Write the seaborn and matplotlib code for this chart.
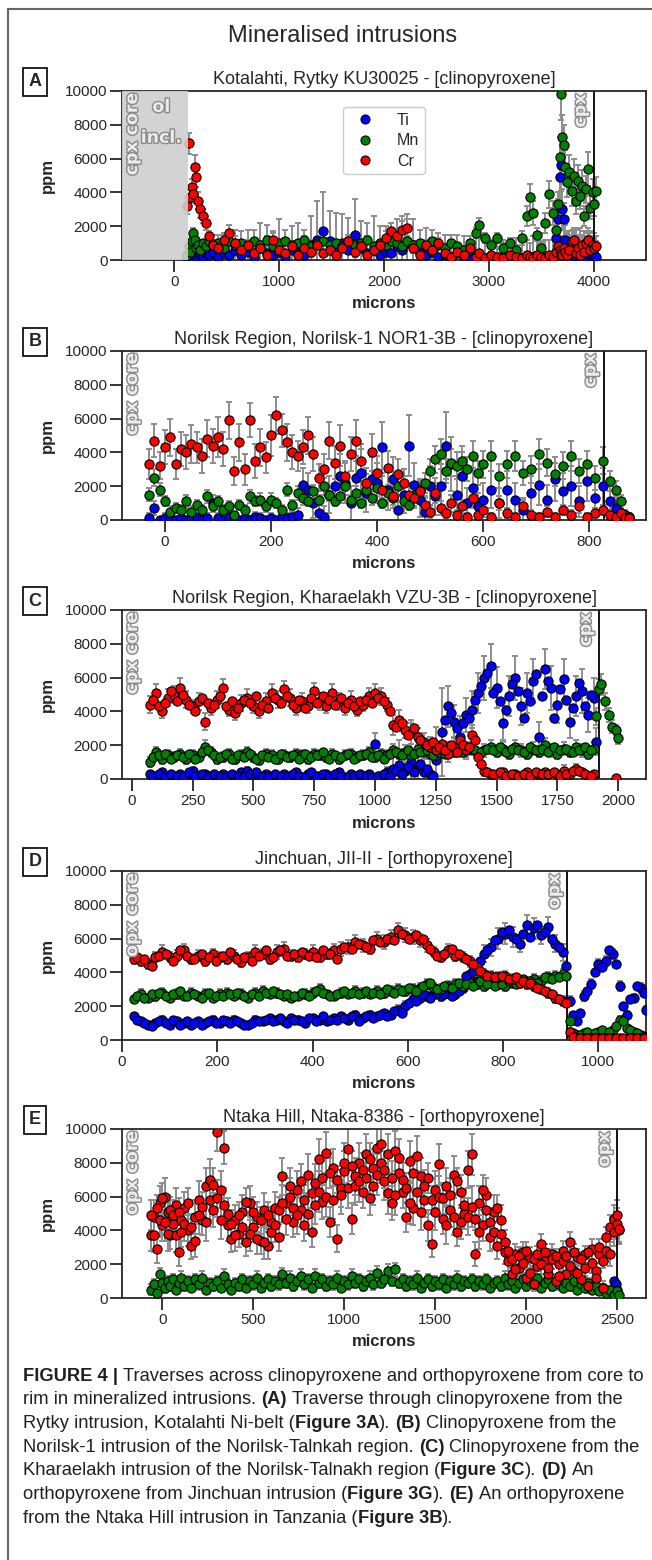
import matplotlib
matplotlib.use("Agg")
import matplotlib.pyplot as plt
import matplotlib.patheffects as pe
from matplotlib.lines import Line2D
from matplotlib.patches import Rectangle
import seaborn as sns

nan = float("nan")

# ---------------- data (ppm vs microns) ----------------
# A - Kotalahti, Rytky KU30025
a_x = [120, 135, 150, 165, 180, 195, 210, 225, 245, 270,
       300, 330, 370, 420, 470, 520, 580, 640, 700, 760,
       820, 880, 940, 1000, 1060, 1120, 1180, 1240, 1300, 1360,
       1420, 1480, 1540, 1600, 1660, 1720, 1780, 1840, 1900, 1960,
       2020, 2070, 2120, 2170, 2220, 2280, 2340, 2400, 2460, 2520,
       2580, 2640, 2700, 2760, 2820, 2880, 2910, 2960, 3020, 3080,
       3140, 3200, 3260, 3320, 3360, 3390, 3420, 3460, 3500, 3540,
       3570, 3610, 3640, 3665, 3680, 3690, 3700, 3715, 3730, 3750,
       3770, 3790, 3810, 3830, 3850, 3870, 3890, 3910, 3930, 3950,
       3970, 3990, 4005, 4020]
a_ti = [200, 400, 300, 200, 500, 300, 200, 400, 300, 200,
        400, 300, 500, 200, 400, 300, 600, 300, 500, 200,
        700, 400, 300, 500, 200, 600, 400, 300, 900, 1200,
        1700, 1100, 800, 1000, 600, 1500, 700, 400, 600, 300,
        500, 400, 800, 600, 1000, 900, 400, 300, 500, 200,
        300, 200, 400, 200, 100, 300, 200, 100, 200, 100,
        200, 100, 200, 100, 200, 100, 200, 100, 200, 100,
        200, 300, 1300, 2400, 4900, 5600, 3000, 2400, 1200, 600,
        400, 300, 500, 200, 300, 400, 200, 300, 200, 400,
        300, 200, 300, 200]
a_mn = [300, 800, 500, 1100, 1600, 1200, 700, 900, 600, 1000,
        800, 1100, 900, 1000, 700, 1100, 900, 1000, 800, 1100,
        900, 1200, 800, 1000, 1100, 900, 1000, 1200, 800, 1000,
        1100, 900, 1000, 800, 1100, 900, 1000, 1200, 800, 1000,
        900, 1100, 1000, 800, 1100, 900, 1000, 800, 1100, 900,
        700, 1000, 800, 600, 1000, 1600, 2100, 1300, 900, 1300,
        700, 1000, 600, 1300, 2600, 3700, 2800, 1500, 700, 2200,
        3900, 2800, 1800, 3300, 6100, 9800, 7300, 6800, 5500, 4600,
        5200, 4100, 5000, 3500, 4700, 3800, 4400, 2600, 4200, 5400,
        3100, 4000, 3300, 4100]
a_cr = [3200, 6900, 3700, 4300, 3900, 5500, 4900, 3500, 3000, 2600,
        2200, 1400, 900, 700, 1200, 1600, 1000, 600, 900, 400,
        700, 300, 1200, 600, 400, 800, 300, 700, 500, 900,
        400, 600, 300, 700, 1100, 500, 800, 300, 600, 900,
        1300, 1700, 1400, 1800, 1900, 700, 300, 900, 600, 1000,
        400, 200, 500, 300, 700, 200, 400, 100, 300, 200,
        100, 300, 200, 100, 300, 200, 100, 300, 200, 100,
        300, 200, 500, 800, 600, 400, 300, 700, 500, 300,
        600, 1100, 1200, 400, 700, 300, 900, 500, 1000, 1200,
        600, 900, 700, 800]
a_ti_err = [200, 300, 200, 200, 300, 200, 200, 300, 200, 200,
            600, 800, 1000, 1300, 1100, 1500, 1200, 1400, 1300, 1600,
            1500, 1700, 1400, 1900, 1600, 1400, 1800, 1500, 1700, 2300,
            2300, 1800, 2000, 1700, 1900, 2100, 1600, 1800, 2000, 1700,
            1500, 1800, 1600, 2000, 1700, 1500, 1400, 1600, 1300, 1400,
            1200, 1300, 1100, 1200, 1300, 1000, 1100, 1200, 1000, 900,
            1000, 900, 1100, 1200, 1000, 900, 1200, 1000, 900, 1100,
            1000, 900, 1100, 1200, 1300, 1500, 1200, 1000, 900, 1000,
            1300, 1500, 1400, 1600, 1200, 1500, 1300, 1400, 1200, 1500,
            1400, 1200, 1300, 1200]
a_mn_err = [200, 200, 200, 300, 300, 200, 200, 200, 200, 200,
            200, 200, 200, 200, 200, 200, 200, 200, 200, 200,
            200, 200, 200, 200, 200, 200, 200, 200, 200, 200,
            200, 200, 200, 200, 200, 200, 200, 200, 200, 200,
            200, 200, 200, 200, 200, 200, 200, 200, 200, 200,
            200, 200, 200, 200, 200, 300, 400, 300, 200, 300,
            300, 300, 300, 400, 600, 800, 700, 400, 300, 600,
            800, 700, 600, 700, 1200, 1500, 1300, 1200, 1000, 900,
            1000, 900, 1000, 800, 900, 800, 900, 600, 800, 1000,
            700, 800, 700, 800]
a_cr_err = [500, 600, 500, 500, 500, 700, 600, 500, 500, 400,
            400, 300, 300, 300, 400, 500, 400, 300, 300, 300,
            300, 200, 400, 300, 200, 300, 200, 300, 300, 300,
            200, 300, 200, 300, 400, 300, 300, 200, 300, 300,
            400, 500, 400, 500, 500, 300, 200, 300, 300, 300,
            200, 200, 300, 200, 300, 200, 200, 100, 200, 200,
            100, 200, 200, 100, 200, 200, 100, 200, 200, 100,
            200, 200, 300, 300, 300, 200, 200, 300, 300, 200,
            300, 400, 400, 300, 300, 200, 300, 300, 400, 400,
            300, 300, 300, 300]

# B - Norilsk-1 NOR1-3B
b_x = [-30, -20, -10, 0, 10, 20, 30, 40, 50, 60,
       70, 80, 90, 100, 110, 120, 130, 140, 150, 160,
       170, 180, 190, 200, 210, 220, 230, 240, 250, 260,
       270, 280, 290, 300, 310, 320, 330, 340, 350, 360,
       370, 380, 390, 400, 410, 420, 430, 440, 450, 460,
       470, 480, 490, 500, 510, 520, 530, 540, 550, 560,
       570, 580, 590, 600, 615, 630, 645, 660, 675, 690,
       705, 720, 735, 750, 765, 780, 795, 810, 825, 840,
       850, 860, 868, 875]
b_ti = [100, 700, 0, 100, 200, 0, 100, 0, 200, 100,
        0, 100, 1000, 100, 0, 200, 100, 0, 100, 0,
        200, 100, 0, 100, 0, 200, 100, 200, 300, 2100,
        1800, 1000, 400, 200, 1500, 2000, 2600, 2200, 1000, 2500,
        2800, 1600, 2400, 2200, 4300, 1800, 2400, 600, 1500, 4400,
        2100, 1200, 500, 2000, 1400, 2000, 4400, 3300, 1500, 2600,
        1000, 1900, 800, 1200, 1800, 1000, 1800, 1200, 600, 1600,
        2100, 1200, 2400, 1700, 2000, 1100, 2300, 1300, 2000, 1100,
        700, 400, 300, 200]
b_mn = [1500, 2500, 1800, 1100, 500, 700, 600, 1100, 500, 900,
        600, 1400, 800, 1100, 600, 800, 300, 900, 600, 1400,
        1100, 1200, 800, 1200, 1000, 600, 1800, 900, 1600, 1300,
        1100, 1700, 1200, 2000, 1500, 1100, 1400, 2000, 1200, 1600,
        1000, 1800, 1300, 1900, 1000, 1600, 1300, 2000, 1100, 900,
        1500, 1800, 2200, 2900, 3600, 3900, 2900, 3400, 3200, 3500,
        3000, 3800, 2800, 3300, 3800, 2600, 3300, 3800, 2800, 3000,
        3900, 3400, 2700, 3200, 3800, 2900, 3300, 2500, 3500, 2300,
        1800, 1100, 300, 200]
b_cr = [3300, 4700, 3200, 4300, 4900, 3300, 4200, 4000, 4500, 4300,
        3800, 4800, 4400, 4900, 4200, 5900, 2900, 4600, 3000, 5900,
        3500, 4300, 3700, 5000, 6200, 5300, 4600, 4000, 3800, 4300,
        5000, 3900, 2500, 3000, 4700, 3400, 4400, 2600, 3900, 4700,
        3500, 2200, 4000, 2800, 1800, 3100, 1400, 2700, 2200, 1500,
        1300, 1700, 900, 500, 1600, 700, 400, 1000, 300, 800,
        200, 1300, 300, 600, 200, 1000, 400, 200, 800, 300,
        200, 500, 200, 600, 300, 800, 200, 400, 600, 300,
        200, 400, 100, 100]
b_ti_err = [300, 400, 200, 300, 300, 200, 300, 200, 300, 300,
            200, 300, 500, 300, 200, 300, 300, 200, 300, 200,
            300, 300, 200, 300, 200, 300, 300, 300, 400, 1000,
            1000, 900, 700, 600, 1100, 1200, 1300, 1200, 1000, 1300,
            1400, 1100, 1300, 1200, 1500, 1200, 1300, 900, 1100, 1800,
            1300, 1000, 800, 1200, 1100, 1300, 2000, 1600, 1100, 1400,
            900, 1200, 800, 1000, 1100, 900, 1100, 1000, 700, 1000,
            1200, 900, 1300, 1100, 1200, 900, 1200, 1000, 1100, 900,
            700, 500, 300, 200]
b_mn_err = [400, 500, 400, 300, 300, 300, 300, 400, 300, 300,
            300, 400, 300, 300, 300, 300, 200, 300, 300, 400,
            300, 400, 300, 400, 300, 300, 400, 300, 400, 400,
            300, 400, 300, 500, 400, 300, 400, 500, 300, 400,
            300, 400, 400, 500, 300, 400, 400, 500, 300, 300,
            400, 500, 600, 700, 800, 900, 700, 800, 800, 900,
            700, 900, 700, 800, 900, 700, 800, 900, 700, 800,
            900, 800, 700, 800, 900, 700, 800, 700, 800, 600,
            500, 400, 200, 200]
b_cr_err = [900, 1000, 800, 1000, 1100, 900, 1000, 1000, 1100, 900,
            1000, 1100, 1000, 1200, 1000, 1100, 800, 1100, 900, 1000,
            1000, 1100, 900, 1200, 1100, 1000, 1100, 1000, 900, 1000,
            1100, 1000, 800, 900, 1100, 1000, 1200, 900, 1000, 1200,
            1000, 900, 1100, 1000, 800, 1000, 700, 900, 800, 700,
            600, 700, 500, 400, 600, 400, 300, 500, 300, 400,
            200, 500, 300, 400, 200, 400, 300, 200, 400, 300,
            200, 300, 200, 300, 300, 400, 200, 300, 300, 300,
            200, 300, 100, 100]

# C - Kharaelakh VZU-3B
c_x = [75, 100, 125, 150, 175, 200, 225, 250, 275, 300,
       325, 350, 375, 400, 425, 450, 475, 500, 525, 550,
       575, 600, 625, 650, 675, 700, 725, 750, 775, 800,
       825, 850, 875, 900, 925, 950, 975, 1000, 1025, 1050,
       1075, 1100, 1125, 1150, 1175, 1200, 1225, 1250, 1275, 1300,
       1325, 1350, 1375, 1400, 1425, 1450, 1475, 1500, 1525, 1550,
       1575, 1600, 1625, 1650, 1675, 1700, 1725, 1750, 1775, 1800,
       1825, 1850, 1875, 1900, 1910, 1920, 1930, 1945, 1960, 1975,
       1990, 2000]
c_ti = [300, 100, 400, 200, 100, 300, 200, 500, 100, 300,
        200, 100, 300, 200, 100, 400, 500, 200, 100, 300,
        200, 100, 300, 200, 400, 100, 300, 200, 100, 300,
        200, 400, 100, 300, 200, 100, 300, 2100, 200, 400,
        600, 800, 500, 1000, 700, 400, 300, 1100, 2800, 4300,
        3400, 2500, 3800, 4100, 5100, 6000, 6700, 5400, 3300, 4900,
        6000, 4300, 5100, 5800, 2500, 6500, 5400, 4400, 5900, 3400,
        4900, 5200, 3800, 4800, 2200, nan, nan, nan, nan, nan,
        nan, nan]
c_mn = [1000, 1600, 1200, 1400, 1300, 1500, 1200, 1400, 1300, 1900,
        1600, 1200, 1300, 1500, 1200, 1400, 1600, 1300, 1100, 1500,
        1400, 1200, 1400, 1300, 1500, 1400, 1200, 1500, 1400, 1300,
        1500, 1200, 1400, 1500, 1300, 1400, 1600, 1300, 1500, 1400,
        1700, 1500, 1600, 1400, 1800, 1600, 1500, 1400, 1700, 1800,
        1600, 1900, 1700, 1800, 1500, 1700, 1900, 1600, 1800, 1500,
        1900, 1700, 1500, 1800, 1600, 2000, 1700, 1500, 1800, 1600,
        1900, 1700, 1500, 1800, 3700, 5300, 5600, 4600, 3800, 3100,
        2900, 2400]
c_cr = [4400, 5100, 4000, 4800, 5000, 5400, 4700, 4300, 4600, 3400,
        4200, 4700, 5400, 4100, 3900, 4500, 4800, 4300, 4000, 4600,
        5100, 4700, 5300, 4800, 4200, 4600, 4300, 5200, 4600, 4300,
        5100, 4600, 4200, 4700, 4100, 4400, 4900, 5100, 4900, 4400,
        3200, 3500, 2900, 2700, 2500, 2200, 1900, 1700, 2100, 1500,
        1900, 2300, 1700, 2600, 1300, 500, 300, 200, 400, 200,
        300, 100, 400, 200, 300, 400, 200, 300, 500, 300,
        600, 400, 200, 300, nan, nan, nan, nan, nan, nan,
        50, nan]
c_ti_err = [200, 100, 200, 100, 100, 200, 100, 200, 100, 200,
            100, 100, 200, 100, 100, 200, 200, 100, 100, 200,
            100, 100, 200, 100, 200, 100, 200, 100, 100, 200,
            100, 200, 100, 200, 100, 100, 200, 600, 200, 300,
            1000, 1500, 1200, 2500, 2000, 1500, 1200, 2000, 2600, 1200,
            1000, 1200, 1000, 1100, 1200, 1300, 1300, 1200, 1000, 1200,
            1300, 1100, 1200, 1300, 900, 1200, 1300, 1100, 1200, 1000,
            1200, 1300, 1000, 1200, 800, nan, nan, nan, nan, nan,
            nan, nan]
c_mn_err = [300, 300, 300, 300, 300, 300, 300, 300, 300, 400,
            300, 300, 300, 300, 300, 300, 300, 300, 300, 300,
            300, 300, 300, 300, 300, 300, 300, 300, 300, 300,
            300, 300, 300, 300, 300, 300, 300, 300, 300, 300,
            400, 300, 400, 300, 400, 400, 300, 400, 400, 400,
            300, 400, 400, 400, 300, 400, 400, 300, 400, 300,
            400, 400, 300, 400, 300, 400, 400, 300, 400, 300,
            400, 400, 300, 400, 500, 600, 600, 500, 400, 400,
            300, 300]
c_cr_err = [500, 500, 400, 500, 500, 600, 500, 400, 500, 500,
            400, 500, 500, 400, 400, 500, 500, 400, 400, 500,
            500, 500, 500, 500, 400, 500, 400, 500, 500, 400,
            500, 500, 400, 500, 400, 400, 500, 500, 500, 400,
            600, 600, 500, 600, 500, 500, 600, 500, 600, 500,
            600, 700, 500, 600, 500, 300, 200, 200, 200, 200,
            200, 200, 200, 200, 200, 200, 200, 200, 300, 200,
            300, 200, 200, 200, nan, nan, nan, nan, nan, nan,
            100, nan]
# C - spots between the ones above
c_x2 = [87, 112, 137, 162, 187, 212, 237, 262, 287, 312,
        337, 362, 387, 412, 437, 462, 487, 512, 537, 562,
        587, 612, 637, 662, 687, 712, 737, 762, 787, 812,
        837, 862, 887, 912, 937, 962, 987, 1012, 1037, 1062,
        1087, 1112, 1137, 1162, 1187, 1212, 1237, 1262, 1287, 1312,
        1337, 1362, 1387, 1412, 1437, 1462, 1487, 1512, 1537, 1562,
        1587, 1612, 1637, 1662, 1687, 1712, 1737, 1762, 1787, 1812,
        1837, 1862, 1887]
c_ti2 = [200, 300, 100, 300, 200, 100, 400, 200, 300, 100,
         300, 200, 100, 300, 200, 100, 300, 400, 200, 100,
         300, 200, 100, 300, 200, 100, 400, 200, 300, 100,
         300, 200, 100, 200, 300, 200, 100, 200, 300, 200,
         500, 300, 700, 400, 900, 600, 200, 1500, 3500, 3900,
         3000, 3300, 3600, 4700, 5500, 6300, 5100, 4600, 4100, 5600,
         5200, 3600, 4600, 6200, 4900, 5800, 3600, 5300, 4700, 4200,
         5700, 4300, 5000]
c_mn2 = [1300, 1400, 1500, 1200, 1400, 1300, 1500, 1200, 1600, 1700,
         1400, 1300, 1500, 1200, 1400, 1300, 1500, 1200, 1400, 1300,
         1200, 1500, 1300, 1400, 1200, 1500, 1300, 1400, 1600, 1200,
         1400, 1300, 1500, 1200, 1400, 1500, 1300, 1400, 1200, 1500,
         1600, 1400, 1700, 1500, 1600, 1700, 1400, 1600, 1500, 1700,
         1800, 1600, 1800, 1700, 1600, 1800, 1700, 1900, 1600, 1800,
         1700, 1600, 1900, 1700, 1800, 1600, 1900, 1700, 1800, 1600,
         1700, 1900, 1700]
c_cr2 = [4700, 4300, 4500, 5200, 4600, 5000, 4400, 4000, 4800, 4500,
         4400, 4900, 4300, 4600, 4200, 4700, 4500, 4900, 4400, 4200,
         4800, 4500, 4900, 4400, 4700, 4200, 4800, 4500, 4900, 4700,
         4400, 4800, 4500, 4300, 4600, 4700, 4500, 4800, 4600, 4000,
         3100, 3300, 2600, 3000, 2300, 2000, 2200, 1900, 1700, 2000,
         1600, 2000, 1900, 2300, 900, 400, 300, 400, 200, 300,
         200, 300, 200, 400, 300, 300, 400, 200, 300, 500,
         500, 300, 200]

# D - Jinchuan JII-II
d_x = [25, 40, 55, 70, 85, 100, 115, 130, 145, 160,
       175, 190, 205, 220, 235, 250, 265, 280, 295, 310,
       325, 340, 355, 370, 385, 400, 415, 430, 445, 460,
       475, 490, 505, 520, 535, 550, 565, 580, 595, 610,
       625, 640, 655, 670, 685, 700, 715, 730, 745, 760,
       775, 790, 805, 820, 835, 850, 865, 880, 895, 910,
       925, 940, 955, 970, 985, 1000, 1015, 1030, 1045, 1060,
       1075, 1090, 1100]
d_ti = [1400, 1100, 900, 1000, 1200, 900, 1100, 1000, 900, 1100,
        1000, 1200, 1000, 1100, 1200, 1000, 900, 1200, 1100, 1300,
        1200, 1100, 1300, 1200, 1000, 1300, 1200, 1100, 1300, 1400,
        1200, 1500, 1300, 1500, 1400, 1600, 1500, 1800, 2000, 2400,
        2500, 2600, 2700, 2600, 2800, 2700, 3100, 3900, 3500, 5100,
        5500, 6000, 6300, 6100, 5700, 6800, 6600, 6200, 6700, 5700,
        5200, 2300, 1100, 2600, 3300, 4500, 4700, 5100, 3200, 1500,
        2500, 3100, 1800]
d_mn = [2400, 2700, 2500, 2600, 2800, 2500, 2700, 2600, 2800, 2600,
        2700, 2500, 2700, 2800, 2600, 2700, 2500, 2800, 2900, 2700,
        2800, 2600, 2500, 2600, 2700, 2800, 3000, 2700, 2600, 2800,
        2700, 2900, 2800, 2700, 2900, 2800, 2900, 3000, 2900, 3000,
        3100, 3300, 3100, 3000, 3200, 3300, 3200, 3400, 3300, 3200,
        3400, 3300, 3200, 3400, 3500, 3400, 3600, 3500, 3700, 3800,
        3900, 1100, 300, 400, 300, 500, 400, 600, 1200, 700,
        500, 300, 200]
d_cr = [4800, 4700, 4500, 4900, 5200, 4900, 5000, 5300, 4800, 5000,
        4700, 5100, 4900, 4800, 5000, 4600, 4900, 5200, 5100, 4800,
        5200, 5400, 5000, 4900, 5100, 5200, 4900, 5100, 5300, 5400,
        5500, 5800, 5600, 5400, 6000, 5800, 6100, 6500, 6200, 6100,
        5900, 5600, 5200, 4900, 5300, 5000, 4900, 4700, 4300, 3900,
        3800, 3700, 3800, 3600, 3400, 3300, 3200, 3000, 2800, 2500,
        2300, 500, 100, 100, 100, 100, 100, 100, 100, 100,
        100, 100, 100]
d_ti_err = [200, 200, 200, 200, 200, 200, 200, 200, 200, 200,
            200, 200, 200, 200, 200, 200, 200, 200, 200, 200,
            200, 200, 200, 200, 200, 200, 200, 200, 200, 200,
            200, 200, 200, 200, 200, 200, 200, 300, 300, 300,
            300, 300, 300, 300, 300, 300, 300, 400, 400, 500,
            500, 600, 600, 600, 500, 600, 600, 500, 600, 500,
            500, 300, 200, 300, 300, 300, 300, 300, 300, 200,
            200, 300, 200]
d_mn_err = [200, 300, 200, 300, 300, 200, 300, 200, 300, 200,
            300, 200, 300, 300, 200, 300, 200, 300, 300, 200,
            300, 200, 200, 200, 300, 300, 300, 200, 200, 300,
            200, 300, 300, 200, 300, 300, 300, 300, 300, 300,
            300, 300, 300, 300, 300, 300, 300, 300, 300, 300,
            300, 300, 300, 300, 300, 300, 300, 300, 300, 300,
            300, 200, 100, 100, 100, 100, 100, 100, 200, 100,
            100, 100, 100]
d_cr_err = [300, 300, 300, 300, 400, 300, 300, 400, 300, 300,
            300, 300, 300, 300, 300, 300, 300, 400, 300, 300,
            400, 400, 300, 300, 300, 400, 300, 300, 400, 400,
            400, 400, 400, 300, 400, 400, 400, 400, 400, 400,
            400, 400, 300, 300, 400, 300, 300, 300, 300, 300,
            300, 300, 300, 300, 300, 300, 300, 300, 300, 300,
            300, 200, 100, 100, 100, 100, 100, 100, 100, 100,
            100, 100, 100]
# D - spots between the ones above
d_x2 = [32, 47, 62, 77, 92, 107, 122, 137, 152, 167,
        182, 197, 212, 227, 242, 257, 272, 287, 302, 317,
        332, 347, 362, 377, 392, 407, 422, 437, 452, 467,
        482, 497, 512, 527, 542, 557, 572, 587, 602, 617,
        632, 647, 662, 677, 692, 707, 722, 737, 752, 767,
        782, 797, 812, 827, 842, 857, 872, 887, 902, 917,
        932, 947, 962, 977, 992, 1007, 1022, 1037, 1052, 1067,
        1082, 1095]
d_ti2 = [1200, 1000, 800, 1100, 1000, 1200, 900, 1100, 1000, 900,
         1100, 1000, 1200, 1000, 1100, 900, 1000, 1100, 1200, 1100,
         1300, 1000, 1200, 1100, 1300, 1100, 1400, 1200, 1200, 1300,
         1400, 1100, 1400, 1300, 1500, 1400, 1700, 1600, 2200, 2300,
         2700, 2500, 2800, 2700, 2600, 2900, 3800, 4100, 4700, 5300,
         5900, 6400, 6500, 6000, 6300, 6100, 6800, 6400, 6000, 5500,
         4400, 1500, 1600, 2900, 4000, 4300, 5300, 4500, 2000, 2400,
         3200, 2800]
d_mn2 = [2600, 2500, 2700, 2800, 2600, 2700, 2900, 2600, 2700, 2500,
         2800, 2600, 2600, 2700, 2800, 2600, 2700, 2600, 2800, 2900,
         2700, 2700, 2600, 2800, 2600, 2900, 2800, 2600, 2700, 2900,
         2800, 2700, 2900, 2800, 2700, 3000, 2800, 2900, 3100, 2900,
         3200, 3400, 3000, 3200, 3100, 3400, 3300, 3200, 3500, 3300,
         3200, 3300, 3500, 3300, 3600, 3500, 3400, 3700, 3600, 3700,
         3800, 400, 300, 500, 400, 600, 500, 800, 1100, 600,
         400, 200]
d_cr2 = [4900, 4800, 4400, 5000, 5100, 4700, 5300, 5000, 4800, 5100,
         4900, 4700, 5000, 5200, 4800, 4900, 4700, 5000, 5300, 4900,
         5300, 5000, 5100, 5200, 5000, 4900, 5300, 5100, 4800, 5500,
         5400, 5700, 5500, 5900, 5800, 6000, 5900, 6300, 6000, 6200,
         6000, 5400, 5000, 5100, 5400, 5100, 4800, 4500, 4100, 3800,
         3700, 3800, 3600, 3700, 3500, 3400, 3100, 2900, 2700, 2400,
         2200, 200, 100, 100, 100, 100, 100, 100, 100, 100,
         100, 100]

# E - Ntaka Hill, Ntaka-8386
e_x = [-60, -45, -30, -15, 0, 15, 30, 45, 60, 75,
       90, 105, 120, 140, 160, 180, 200, 220, 240, 260,
       280, 300, 320, 340, 360, 380, 400, 420, 440, 460,
       480, 500, 520, 540, 560, 580, 600, 620, 640, 660,
       680, 700, 720, 740, 760, 780, 800, 820, 840, 860,
       880, 900, 920, 940, 960, 980, 1000, 1020, 1040, 1060,
       1080, 1100, 1120, 1140, 1160, 1180, 1200, 1220, 1240, 1260,
       1280, 1300, 1320, 1340, 1360, 1380, 1400, 1420, 1440, 1460,
       1480, 1500, 1520, 1540, 1560, 1580, 1600, 1620, 1640, 1660,
       1680, 1700, 1720, 1740, 1760, 1780, 1800, 1820, 1840, 1860,
       1880, 1900, 1920, 1940, 1960, 1980, 2000, 2020, 2040, 2060,
       2080, 2100, 2120, 2140, 2160, 2180, 2200, 2220, 2240, 2260,
       2280, 2300, 2320, 2340, 2360, 2380, 2400, 2420, 2440, 2460,
       2480, 2500, 2510]
e_ti_x = [2470, 2480, 2490, 2500]
e_ti = [300, 1000, 800, 500]
e_ti_err = [100, 200, 200, 100]
e_mn = [500, 800, 300, 1400, 900, 600, 1000, 700, 1100, 500,
        900, 1200, 700, 1000, 600, 1100, 800, 1200, 500, 900,
        700, 1000, 600, 1300, 800, 500, 900, 700, 1100, 600,
        1000, 800, 1200, 600, 900, 1100, 700, 1000, 800, 1400,
        900, 1200, 700, 1000, 1300, 800, 1100, 600, 1300, 900,
        1100, 700, 1000, 800, 1200, 600, 1000, 800, 1300, 900,
        1100, 700, 1000, 1200, 800, 1500, 900, 1100, 1600, 1000,
        1700, 900, 1100, 700, 1000, 800, 1200, 600, 900, 1100,
        700, 1000, 800, 1100, 600, 1000, 800, 1200, 700, 1000,
        900, 1100, 700, 1000, 800, 1100, 600, 900, 1000, 700,
        1200, 800, 1000, 600, 900, 1100, 700, 1000, 800, 1200,
        600, 900, 1100, 700, 1000, 800, 600, 900, 700, 1000,
        500, 800, 600, 900, 500, 700, 400, 600, 300, 500,
        200, 400, 200]
e_cr = [3700, 4800, 2900, 5600, 4300, 6000, 5100, 3700, 4400, 5500,
        2700, 4600, 5300, 4000, 3100, 4800, 5800, 4600, 6600, 7000,
        5200, 9800, 6400, 8900, 4300, 3500, 4600, 3800, 5100, 3300,
        5600, 4200, 4800, 3400, 5200, 3100, 4500, 5300, 3600, 7200,
        5600, 6000, 4500, 6400, 5200, 4300, 7300, 3900, 6800, 8200,
        5700, 8600, 4500, 7700, 3500, 6500, 7500, 8800, 4700, 7200,
        8000, 6300, 8500, 5900, 7700, 8900, 9100, 6900, 8500, 5600,
        8700, 7400, 6300, 4800, 8100, 5300, 8400, 7200, 5800, 4300,
        3200, 6400, 7900, 4700, 6600, 5200, 7300, 3900, 6300, 5000,
        7600, 8500, 2600, 5600, 4300, 6100, 3600, 5100, 3100, 4600,
        3300, 2200, 1400, 2600, 1800, 2700, 1200, 2400, 800, 1900,
        3200, 2200, 1400, 2600, 1000, 2000, 2800, 1400, 3300, 1600,
        2400, 1100, 2600, 700, 2900, 1600, 2600, 600, 3600, 4200,
        4700, 4900, 4000]
e_cr_2 = [4900, 3700, 5300, 4600, 5900, 4500, 3800, 5200, 4900, 3700,
          5100, 3900, 4400, 5600, 4200, 3400, 4900, 5400, 4500, 5800,
          6700, 5900, 4600, 5500, 5000, 4400, 3700, 4900, 4200, 5700,
          3800, 5100, 3500, 4600, 3300, 4900, 3900, 4300, 5200, 5600,
          4700, 6600, 5300, 4900, 6900, 5800, 5000, 6200, 5500, 6300,
          7100, 6000, 7400, 5800, 7000, 6100, 8000, 6500, 7800, 6600,
          6900, 7600, 7100, 8200, 6600, 7300, 8000, 7600, 6200, 7100,
          6100, 8300, 7000, 6500, 5600, 7400, 6300, 5100, 6600, 7100,
          5800, 5100, 6000, 5900, 4300, 6100, 4800, 6900, 4500, 5500,
          4800, 5400, 4700, 3900, 6400, 5200, 4500, 3900, 5300, 3800,
          2700, 2800, 2300, 1700, 2500, 2100, 2800, 1500, 2300, 2600,
          2000, 2700, 1800, 2300, 2500, 1300, 2200, 2500, 1900, 2700,
          1500, 2300, 1800, 2700, 2100, 1200, 3000, 2200, 2800, 2600,
          3900, 4400, 4100]
e_mn_err = [300, 300, 200, 400, 300, 300, 300, 300, 300, 200,
            300, 400, 300, 300, 200, 300, 300, 400, 200, 300,
            300, 300, 200, 400, 300, 200, 300, 300, 300, 200,
            300, 300, 400, 200, 300, 300, 300, 300, 300, 400,
            300, 400, 300, 300, 400, 300, 300, 200, 400, 300,
            300, 300, 300, 300, 400, 200, 300, 300, 400, 300,
            300, 300, 300, 400, 300, 400, 300, 300, 400, 300,
            400, 300, 300, 300, 300, 300, 400, 200, 300, 300,
            300, 300, 300, 300, 200, 300, 300, 400, 300, 300,
            300, 300, 300, 300, 300, 300, 200, 300, 300, 300,
            400, 300, 300, 200, 300, 300, 300, 300, 300, 400,
            200, 300, 300, 300, 300, 300, 200, 300, 300, 300,
            200, 300, 200, 300, 200, 300, 200, 200, 100, 200,
            100, 200, 100]
e_cr_err = [900, 1000, 800, 1000, 900, 1100, 1000, 800, 900, 1000,
            800, 900, 1000, 900, 800, 1000, 1100, 900, 1100, 1200,
            1000, 1100, 1100, 1000, 900, 800, 900, 800, 1000, 800,
            1000, 900, 900, 800, 1000, 800, 900, 1000, 800, 1100,
            1000, 1100, 900, 1100, 1000, 900, 1200, 900, 1100, 1200,
            1000, 1200, 900, 1100, 800, 1100, 1200, 1200, 900, 1100,
            1200, 1000, 1200, 1000, 1100, 1200, 1200, 1100, 1200, 1000,
            1200, 1100, 1000, 900, 1200, 1000, 1200, 1100, 1000, 900,
            800, 1100, 1200, 900, 1100, 1000, 1100, 800, 1000, 900,
            1100, 1200, 700, 1000, 900, 1000, 800, 1000, 800, 900,
            700, 600, 500, 600, 500, 600, 500, 600, 400, 500,
            600, 500, 500, 600, 400, 500, 600, 500, 600, 500,
            500, 400, 500, 400, 600, 500, 500, 400, 600, 700,
            800, 900, 800]

Y_TICKS = [0, 2000, 4000, 6000, 8000, 10000]
ELEMENTS = ["Ti", "Mn", "Cr"]
COLOURS = {"Ti": "blue", "Mn": "green", "Cr": "red"}

PANELS = [
    ("A", "Kotalahti, Rytky KU30025 - [clinopyroxene]", 91, (-500, 4500),
     [0, 1000, 2000, 3000, 4000], 4000, "cpx core", "cpx",
     [("Ti", a_x, a_ti, a_ti_err), ("Mn", a_x, a_mn, a_mn_err), ("Cr", a_x, a_cr, a_cr_err)]),
    ("B", "Norilsk Region, Norilsk-1 NOR1-3B - [clinopyroxene]", 351, (-81, 907),
     [0, 200, 400, 600, 800], 827, "cpx core", "cpx",
     [("Ti", b_x, b_ti, b_ti_err), ("Mn", b_x, b_mn, b_mn_err), ("Cr", b_x, b_cr, b_cr_err)]),
    ("C", "Norilsk Region, Kharaelakh VZU-3B - [clinopyroxene]", 610, (-40, 2114),
     [0, 250, 500, 750, 1000, 1250, 1500, 1750, 2000], 1920, "cpx core", "cpx",
     [("Ti", c_x, c_ti, c_ti_err), ("Ti", c_x2, c_ti2, None),
      ("Mn", c_x, c_mn, c_mn_err), ("Mn", c_x2, c_mn2, None),
      ("Cr", c_x, c_cr, c_cr_err), ("Cr", c_x2, c_cr2, None)]),
    ("D", "Jinchuan, JII-II - [orthopyroxene]", 871, (0, 1100),
     [0, 200, 400, 600, 800, 1000], 935, "opx core", "opx",
     [("Ti", d_x, d_ti, d_ti_err), ("Ti", d_x2, d_ti2, None),
      ("Mn", d_x, d_mn, d_mn_err), ("Mn", d_x2, d_mn2, None),
      ("Cr", d_x, d_cr, d_cr_err), ("Cr", d_x2, d_cr2, None)]),
    ("E", "Ntaka Hill, Ntaka-8386 - [orthopyroxene]", 1129, (-221, 2657),
     [0, 500, 1000, 1500, 2000, 2500], 2500, "opx core", "opx",
     [("Ti", e_ti_x, e_ti, e_ti_err), ("Mn", e_x, e_mn, e_mn_err),
      ("Cr", e_x, e_cr, e_cr_err), ("Cr", e_x, e_cr_2, e_cr_err)]),
]

CAPTION = [
    [("FIGURE 4 | ", True), ("Traverses across clinopyroxene and orthopyroxene from core to", False)],
    [("rim in mineralized intrusions. ", False), ("(A)", True), (" Traverse through clinopyroxene from the", False)],
    [("Rytky intrusion, Kotalahti Ni-belt (", False), ("Figure 3A", True), ("). ", False), ("(B)", True),
     (" Clinopyroxene from the", False)],
    [("Norilsk-1 intrusion of the Norilsk-Talnkah region. ", False), ("(C)", True),
     (" Clinopyroxene from the", False)],
    [("Kharaelakh intrusion of the Norilsk-Talnakh region (", False), ("Figure 3C", True), ("). ", False),
     ("(D)", True), (" An", False)],
    [("orthopyroxene from Jinchuan intrusion (", False), ("Figure 3G", True), ("). ", False), ("(E)", True),
     (" An orthopyroxene", False)],
    [("from the Ntaka Hill intrusion in Tanzania (", False), ("Figure 3B", True), (").", False)],
]
CAPTION_Y = [1375, 1398, 1422, 1446, 1469, 1493, 1517]

# ---------------- layout ----------------
sns.set_style("ticks")
plt.rcParams["font.family"] = ["Liberation Sans", "DejaVu Sans"]

W, H = 652, 1560
LEFT, RIGHT, AX_H = 122, 646, 169

ANNOT = dict(fontsize=12.5, family="DejaVu Sans", fontweight="bold", color="#ececec", zorder=6,
             path_effects=[pe.withStroke(linewidth=2.0, foreground="#8a8a8a")])

fig = plt.figure(figsize=(W / 100, H / 100), dpi=100)


def draw_panel(ax, series):
    # error bars first so every marker sits on top of them
    for el, x, y, err in series:
        if err is not None:
            ax.errorbar(x, y, yerr=err, fmt="none", ecolor="#8c8c8c", elinewidth=1.4,
                        capsize=2.5, capthick=1.4, zorder=1)
    for el, x, y, err in series:
        sns.scatterplot(x=x, y=y, color=COLOURS[el], edgecolor="black", linewidth=0.8,
                        s=44, ax=ax, zorder=3, legend=False)


for letter, title, top, xlim, xticks, rim, core_lab, rim_lab, series in PANELS:
    ax = fig.add_axes([LEFT / W, 1 - (top + AX_H) / H, (RIGHT - LEFT) / W, AX_H / H])
    draw_panel(ax, series)

    ax.set_xlim(xlim)
    ax.set_ylim(0, 10000)
    ax.set_xticks(xticks)
    ax.set_yticks(Y_TICKS)
    ax.tick_params(labelsize=11, length=8.5, width=1.3, pad=2)
    for sp in ax.spines.values():
        sp.set_linewidth(1.3)

    ax.set_title(title, fontsize=13, pad=5)
    ax.set_xlabel("microns", fontsize=12, fontweight="bold", va="center")
    ax.xaxis.set_label_coords(0.5, -44 / AX_H)
    ax.set_ylabel("ppm", fontsize=12, fontweight="bold", va="center")
    ax.yaxis.set_label_coords((47 - LEFT) / (RIGHT - LEFT), 0.5)

    # rim marker and core/rim labels
    ax.axvline(rim, color="black", lw=1.3, zorder=2.5)
    ax.text(0.002, 0.99, core_lab, transform=ax.transAxes, rotation=90, ha="left", va="top", **ANNOT)
    ax.annotate(rim_lab, xy=(rim, 0.985), xycoords=("data", "axes fraction"), xytext=(-3, 0),
                textcoords="offset points", rotation=90, ha="right", va="top", **ANNOT)

    fig.text(35 / W, 1 - (top - 9) / H, letter, ha="center", va="center", fontsize=13,
             fontweight="bold", bbox=dict(boxstyle="square,pad=0.3", fc="white", ec="black", lw=1.2))

    if letter == "A":
        # olivine inclusion at the core
        ax.axvspan(xlim[0], 127, color="#cfcfcf", alpha=0.9, lw=0, zorder=3.5)
        ax.text(-125, 9060, "ol", ha="center", va="center", **ANNOT)
        ax.text(-125, 7235, "incl.", ha="center", va="center", **ANNOT)
        handles = [Line2D([], [], ls="none", marker="o", markersize=6.5, markerfacecolor=COLOURS[el],
                          markeredgecolor="black", markeredgewidth=0.8, label=el) for el in ELEMENTS]
        ax.legend(handles=handles, loc="upper center", bbox_to_anchor=(0.5, 1 - 8 / AX_H),
                  fontsize=11.5, handletextpad=1.0, borderpad=0.35, labelspacing=0.35,
                  framealpha=1, edgecolor="0.8")

fig.text(343 / W, 1 - 36 / H, "Mineralised intrusions", ha="center", va="center", fontsize=17)

# outer frame of the figure panel
fig.patches.append(Rectangle((7.5 / W, -0.05), 1.2, 1.05 - 9 / H, transform=fig.transFigure,
                             fill=False, ec="#666666", lw=1.5))

# caption with bold fragments
renderer = fig.canvas.get_renderer()


def text_width(s, bold, size):
    t = fig.text(0, 0, s, fontsize=size, fontweight="bold" if bold else "normal")
    w = t.get_window_extent(renderer).width
    t.remove()
    return w


CAP_SIZE = 13.2
space_w = text_width("a a", False, CAP_SIZE) - text_width("aa", False, CAP_SIZE)
for parts, yc in zip(CAPTION, CAPTION_Y):
    x = 23
    for s, bold in parts:
        lead = len(s) - len(s.lstrip())
        trail = len(s) - len(s.rstrip())
        x += lead * space_w
        core = s.strip()
        t = fig.text(x / W, 1 - (yc + 6) / H, core, fontsize=CAP_SIZE, va="baseline", ha="left",
                     fontweight="bold" if bold else "normal", color="#231f20")
        x += t.get_window_extent(renderer).width + trail * space_w

fig.savefig("out.png", dpi=100)
